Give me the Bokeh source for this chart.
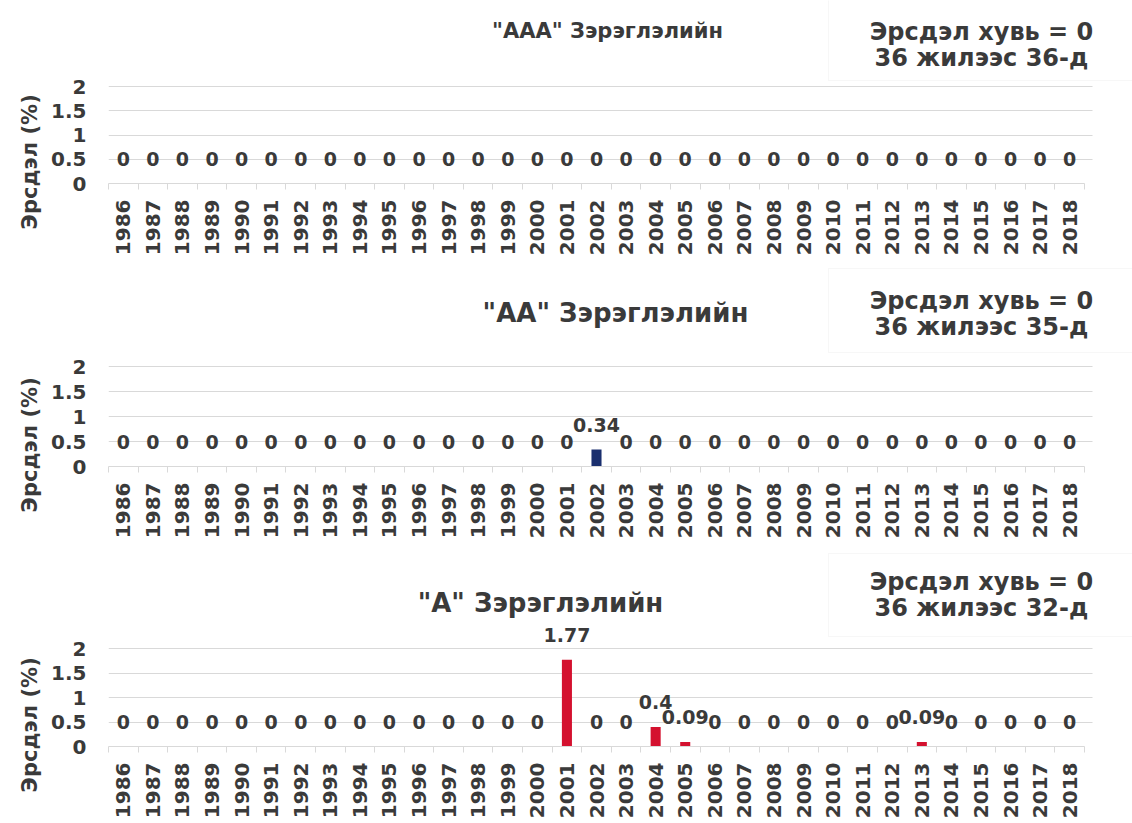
import math
from bokeh.plotting import figure
from bokeh.layouts import column
from bokeh.models import Range1d, FixedTicker, Label, BoxAnnotation, Title, Grid
from bokeh.core.properties import value
from bokeh.embed import file_html
from bokeh.resources import INLINE

# ---------------- data ----------------
years = ["1986", "1987", "1988", "1989", "1990", "1991", "1992", "1993", "1994",
         "1995", "1996", "1997", "1998", "1999", "2000", "2001", "2002", "2003",
         "2004", "2005", "2006", "2007", "2008", "2009", "2010", "2011", "2012",
         "2013", "2014", "2015", "2016", "2017", "2018"]

risk_aaa = [0, 0, 0, 0, 0, 0, 0, 0, 0, 0, 0, 0, 0, 0, 0, 0, 0,
            0, 0, 0, 0, 0, 0, 0, 0, 0, 0, 0, 0, 0, 0, 0, 0]
risk_aa = [0, 0, 0, 0, 0, 0, 0, 0, 0, 0, 0, 0, 0, 0, 0, 0, 0.34,
           0, 0, 0, 0, 0, 0, 0, 0, 0, 0, 0, 0, 0, 0, 0, 0]
risk_a = [0, 0, 0, 0, 0, 0, 0, 0, 0, 0, 0, 0, 0, 0, 0, 1.77, 0,
          0, 0.4, 0.09, 0, 0, 0, 0, 0, 0, 0, 0.09, 0, 0, 0, 0, 0]

titles = ['"AAA" Зэрэглэлийн', '"AA" Зэрэглэлийн', '"A" Зэрэглэлийн']
box_line1 = ["Эрсдэл хувь = 0", "Эрсдэл хувь = 0", "Эрсдэл хувь = 0"]
box_line2 = ["36 жилээс 36-д", "36 жилээс 35-д", "36 жилээс 32-д"]
y_ticks = [0, 0.5, 1, 1.5, 2]
y_tick_labels = ["0", "0.5", "1", "1.5", "2"]
y_label = "Эрсдэл (%)"

# ---------------- style ----------------
FONT = "DejaVu Sans"
TXT = "#3a3a3a"
GRID = "#d9d9d9"
W = 1132
FRAME_L, CAT_R = 108, 1084            # page px: plot area left, last category edge
PX_PER_CAT = (CAT_R - FRAME_L) / len(years)
HAS_CROSS = "cross_bounds" in Grid.properties()


def make_panel(vals, color, title, l1, l2, fig_top, fig_h, zero_px, ppu,
               title_cx, title_cy, title_size, box_top, box_bot, line1_y, line2_y):
    n = len(years)
    idx = list(range(n))
    x_end = (W - FRAME_L) / PX_PER_CAT - 0.5
    y_end = (zero_px - fig_top) / ppu
    p = figure(width=W, height=fig_h, output_backend="svg", toolbar_location=None,
               x_range=Range1d(-0.5, x_end), y_range=Range1d(0, y_end),
               min_border_left=FRAME_L, min_border_right=0, min_border_top=0,
               min_border_bottom=fig_top + fig_h - zero_px)
    p.outline_line_color = None
    p.border_fill_color = "white"

    def sx(px):
        return (px - FRAME_L) / PX_PER_CAT - 0.5

    def sy(py):
        return (zero_px - py) / ppu

    # x axis
    xa = p.xaxis[0]
    xa.ticker = FixedTicker(ticks=idx, minor_ticks=[i - 0.5 for i in range(n + 1)])
    xa.major_label_overrides = {i: y for i, y in zip(idx, years)}
    xa.major_label_orientation = math.pi / 2
    xa.bounds = (-0.5, n - 0.5)
    xa.major_tick_line_color = None
    xa.major_tick_out = 0
    xa.minor_tick_line_color = GRID
    xa.minor_tick_out = 6
    xa.minor_tick_in = 0
    xa.axis_line_color = GRID
    xa.major_label_standoff = 10
    xa.major_label_text_font = FONT
    xa.major_label_text_font_style = "bold"
    xa.major_label_text_font_size = "20px"
    xa.major_label_text_color = TXT

    # y axis
    ya = p.yaxis[0]
    ya.ticker = FixedTicker(ticks=y_ticks)
    ya.major_label_overrides = {t: s for t, s in zip(y_ticks, y_tick_labels)}
    ya.axis_line_color = None
    ya.major_tick_line_color = None
    ya.minor_tick_line_color = None
    ya.major_tick_out = 0
    ya.major_label_standoff = 22
    ya.major_label_text_font = FONT
    ya.major_label_text_font_style = "bold"
    ya.major_label_text_font_size = "20px"
    ya.major_label_text_color = TXT

    p.xgrid.visible = False
    p.ygrid.ticker = FixedTicker(ticks=y_ticks)
    p.ygrid.grid_line_color = GRID
    if HAS_CROSS:
        p.ygrid.cross_bounds = (-0.5, sx(1092))

    # y-axis title on the left side
    p.add_layout(Title(text=y_label, align="left", offset=-46,
                       text_font=FONT, text_font_style="bold", text_font_size="21px",
                       text_color=TXT, standoff=14), "left")

    # bars and value labels
    p.vbar(x=idx, top=vals, width=0.34, fill_color=color, line_color=None)
    p.text(x=idx, y=vals, text=[f"{v:g}" for v in vals], text_align="center",
           text_baseline="middle", y_offset=-25, text_font=value(FONT),
           text_font_style="bold", text_font_size="19px", text_color=TXT)

    # panel title
    p.add_layout(Label(x=sx(title_cx), y=sy(title_cy), text=title, text_align="center",
                       text_baseline="middle", text_font=FONT, text_font_style="bold",
                       text_font_size=title_size, text_color=TXT))
    # info box
    p.add_layout(BoxAnnotation(left=sx(828), right=sx(1145), top=sy(box_top),
                               bottom=sy(box_bot), fill_color="white", fill_alpha=1,
                               line_color="#e6e6e6", line_width=1, level="annotation"))
    for txt, ly in ((l1, line1_y), (l2, line2_y)):
        p.add_layout(Label(x=sx(981), y=sy(ly), text=txt, text_align="center",
                           text_baseline="middle", text_font=FONT,
                           text_font_style="bold", text_font_size="24px",
                           text_color=TXT))
    return p


p1 = make_panel(risk_aaa, "#1a2f6e", titles[0], box_line1[0], box_line2[0],
                fig_top=0, fig_h=266, zero_px=183, ppu=48.5,
                title_cx=607, title_cy=30, title_size="21px",
                box_top=-3, box_bot=80, line1_y=31, line2_y=57)
p2 = make_panel(risk_aa, "#1a2f6e", titles[1], box_line1[1], box_line2[1],
                fig_top=266, fig_h=282, zero_px=466, ppu=50,
                title_cx=615, title_cy=312, title_size="26px",
                box_top=268, box_bot=352, line1_y=300, line2_y=326)
p3 = make_panel(risk_a, "#d4112f", titles[2], box_line1[2], box_line2[2],
                fig_top=548, fig_h=274, zero_px=746, ppu=49,
                title_cx=540, title_cy=602, title_size="26px",
                box_top=553, box_bot=636, line1_y=581, line2_y=607)

layout = column(p1, p2, p3, spacing=0)
open("out.html", "w").write(file_html(layout, INLINE))
